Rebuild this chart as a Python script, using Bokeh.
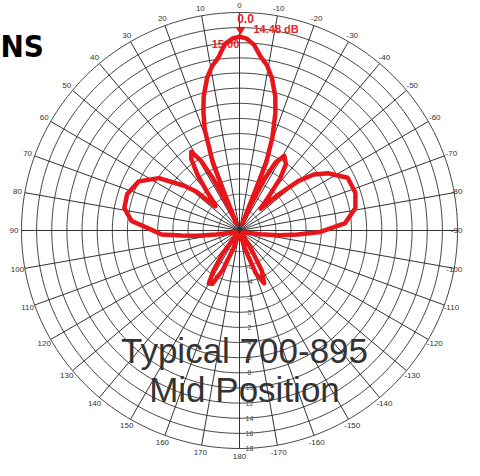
import numpy as np
from bokeh.plotting import figure
from bokeh.models import Range1d
from bokeh.embed import file_html
from bokeh.resources import INLINE
from bokeh.core.properties import value

# ---------------- data ----------------
# angle in degrees: 0 = up, positive = counter-clockwise (left side)
pattern_angle_deg = [-180, -170, -167, -163, -159, -155, -151, -148, -145, -135,
                     -120, -110, -105, -100, -97, -94, -91, -86, -79, -72,
                     -64, -57, -53, -50, -47, -44, -41, -38, -35, -31,
                     -28, -26, -24, -23, -21.5, -19.5, -17, -15, -12, -9.5,
                     -7, -4.5, -2, 0, 2, 4.5, 7, 9.5, 12, 15,
                     17, 19, 21.5, 22, 23.5, 25, 27, 29, 31.5, 34,
                     37, 40, 43, 45, 48, 51, 57, 64, 72, 79,
                     85, 89, 93, 95, 97, 100, 105, 110, 130, 140,
                     144, 147, 150, 153, 157, 161, 165, 180]
pattern_level_db = [-10.3, -10.2, -10.0, -8.1, -4.7, -3.1, -4.7, -7.7, -10.0, -10.3,
                    -10.3, -10.0, -9.7, -8.0, -5.6, -3.1, -0.1, 3.2, 4.8, 5.3,
                    5.1, 3.1, 1.5, -0.6, -4.1, -6.8, -5.1, -2.1, -0.1, 0.7,
                    -0.6, -3.1, -7.0, -9.8, -1.2, 2.2, 5.4, 7.5, 9.8, 11.3,
                    12.3, 13.8, 14.6, 14.8, 14.6, 13.9, 12.2, 11.2, 9.8, 7.5,
                    5.5, 3.3, -1.2, -4.4, -9.8, -7.0, -3.1, -0.2, 1.4, 0.6,
                    -1.6, -4.1, -6.0, -6.3, -3.1, -1.4, 1.9, 4.0, 4.8, 4.7,
                    3.5, 1.1, -0.5, -3.1, -5.1, -7.7, -9.7, -10.2, -10.3, -10.2,
                    -7.0, -4.5, -2.7, -2.9, -5.1, -8.3, -10.2, -10.3]

ring_db = [-8, -6, -4, -2, 0, 2, 4, 6, 8, 10, 12, 14, 16, 18]
ring_label_db = [-8, -6, -4, -2, 0, 2, 4, 6, 8, 10, 12, 14, 16, 18]
spoke_deg = list(range(0, 360, 10))
spoke_label_deg = list(range(-170, 190, 10))
spoke_labels = [str(a) for a in spoke_label_deg]

peak_angle_deg = 0
peak_level_db = 14.8
peak_text = "0.0"
gain_text = "14.48 dB"
scale_text = "15.00"
title_text = "NS"
note_lines = ["Typical 700-895", "Mid Position"]

# ---------------- scale ----------------
L_MIN = -10.8      # level at the centre
OUTER_DB = 18
R_OUT = 218.0      # pixels of the outer ring
PX_PER_DB = R_OUT / (OUTER_DB - L_MIN)
X_MIN, X_MAX = -239, 225
Y_MIN, Y_MAX = -230, 230


def rad(level):
    return (np.asarray(level, dtype=float) - L_MIN) * PX_PER_DB


def to_xy(theta_deg, r):
    t = np.radians(np.asarray(theta_deg, dtype=float))
    return -r * np.sin(t), r * np.cos(t)


p = figure(width=464, height=460, x_range=Range1d(X_MIN, X_MAX), y_range=Range1d(Y_MIN, Y_MAX),
           output_backend="svg", toolbar_location=None, min_border=0,
           outline_line_color=None, background_fill_color="white", border_fill_color="white")
p.axis.visible = False
p.grid.visible = False

# rings
full = np.linspace(0, 360, 361)
rx, ry = [], []
for d in ring_db:
    x, y = to_xy(full, rad(d))
    rx.append(list(x)); ry.append(list(y))
p.multi_line(rx, ry, line_color="#444444", line_width=1)

# spokes
sx, sy = [], []
for a in spoke_deg:
    x, y = to_xy([a, a], np.array([0.0, R_OUT]))
    sx.append(list(x)); sy.append(list(y))
p.multi_line(sx, sy, line_color="#333333", line_width=1)

# angle labels (kept inside the canvas at the right edge)
lx, ly = to_xy(spoke_label_deg, R_OUT + 7.5)
lx = list(lx)
for i, t in enumerate(spoke_labels):
    half_w = len(t) * 2.3
    lx[i] = min(lx[i], X_MAX - half_w - 1)
p.text(lx, list(ly), text=spoke_labels, text_font=value("Liberation Sans"),
       text_font_size="8px", text_color="#333333", text_align="center", text_baseline="middle")

# ring labels on the 180 spoke
rl = rad(ring_label_db)
p.text([10] * len(ring_label_db), list(-rl), text=[str(v) for v in ring_label_db],
       text_font=value("Liberation Sans"), text_font_size="7px", text_color="#444444",
       text_align="center", text_baseline="middle")

# red annotations
px_, py_ = to_xy([peak_angle_deg], rad([peak_level_db]))
p.text([px_[0] + 6], [py_[0] + 18], text=[peak_text], text_font=value("Liberation Sans"),
       text_font_size="12px", text_font_style="bold", text_color="#e2262a",
       text_align="center", text_baseline="middle")
p.text([px_[0] + 14], [py_[0] + 8], text=[gain_text], text_font=value("Liberation Sans"),
       text_font_size="11px", text_font_style="bold", text_color="#e2262a",
       text_align="left", text_baseline="middle")
p.text([px_[0] - 14], [py_[0] - 7], text=[scale_text], text_font=value("Liberation Sans"),
       text_font_size="11px", text_font_style="bold", text_color="#e2262a",
       text_align="center", text_baseline="middle")

# pattern
gx, gy = to_xy(pattern_angle_deg, rad(pattern_level_db))
p.line(list(gx), list(gy), line_color="#e8161b", line_width=4.5, line_join="round")
p.scatter([px_[0] + 1], [py_[0] + 7], marker="inverted_triangle", size=8,
          fill_color="#e8161b", line_color="#e8161b")

# title fragment
p.text([X_MIN], [185], text=[title_text], text_font=value("DejaVu Sans Condensed"),
       text_font_size="31px", text_font_style="bold", text_color="black",
       text_align="left", text_baseline="alphabetic")

# note
p.text([5, 5], [-120, -159], text=note_lines, text_font=value("Liberation Sans"),
       text_font_size="35px", text_color="#333333", text_align="center",
       text_baseline="alphabetic")

open("out.html", "w").write(file_html(p, INLINE))
